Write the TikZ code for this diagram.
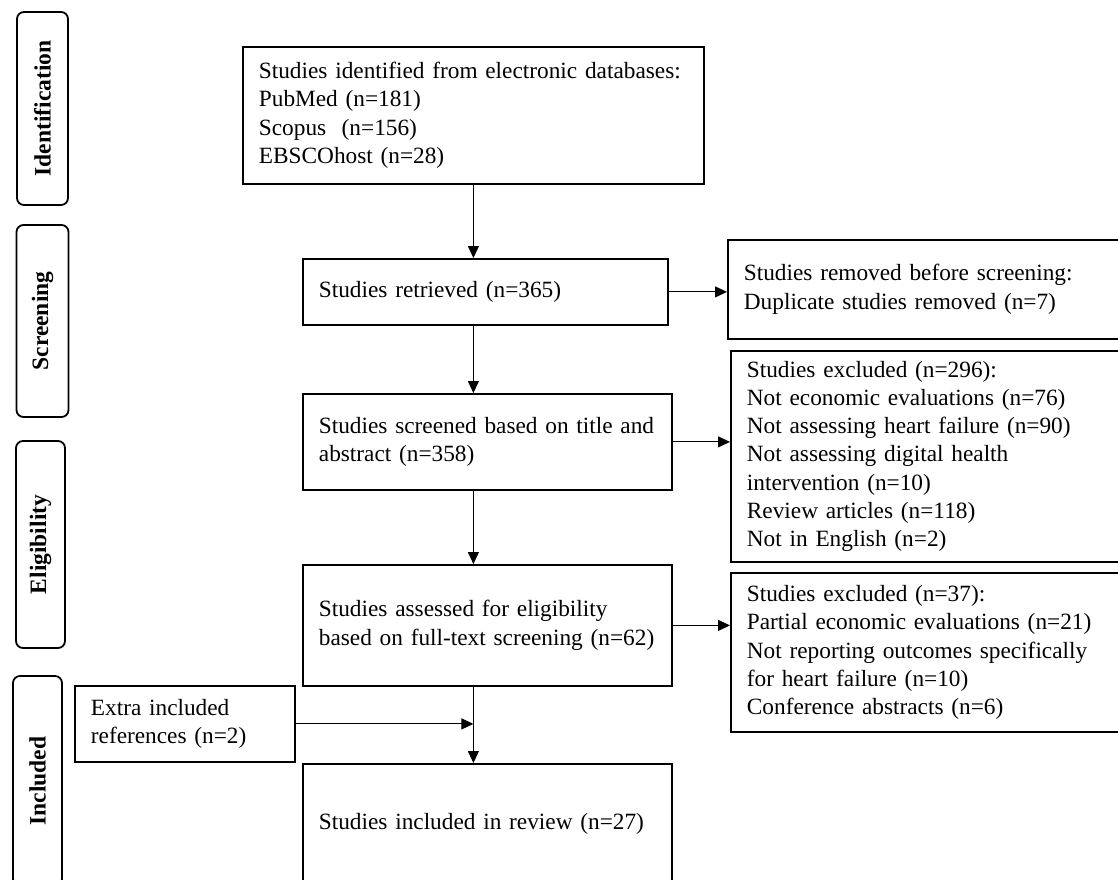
\documentclass[tikz,border=0pt]{standalone}
\usepackage{fontspec}
\setmainfont{Liberation Serif}
\usepackage{tikz}
\usetikzlibrary{arrows.meta,positioning,calc}
\tikzset{
  prbox/.style={draw=black, line width=1.8pt, fill=white, align=left, anchor=north west, inner xsep=16pt, inner ysep=0pt, font=\fontsize{23.3pt}{28.3pt}\selectfont},
  prphase/.style={draw=black, rounded corners=7pt, line width=1.8pt, fill=white, rotate=90, inner sep=0pt, font=\fontsize{23.5pt}{28pt}\selectfont\bfseries},
  prline/.style={-{Triangle[length=12pt,width=11pt]}, line width=1pt}
}

\begin{document}
\begin{tikzpicture}[x=1pt, y=-1pt]
  \path[use as bounding box, fill=white] (0,0) rectangle (1118,879);
  \node[prphase, minimum width=193pt, minimum height=51pt] (idph) at (42.5,108.5) {Identification};
  \node[prphase, minimum width=192pt, minimum height=52pt] (scph) at (42.5,321) {Screening};
  \node[prphase, minimum width=207pt, minimum height=49pt] (elph) at (40.5,544.5) {Eligibility};
  \node[prphase, minimum width=210pt, minimum height=49pt] (inph) at (37.5,781) {Included};
  \node[prbox, text width=429pt, minimum height=137pt] (ident) at (242,46) {Studies identified from electronic databases:\\PubMed (n=181)\\Scopus~ (n=156)\\EBSCOhost (n=28)};
  \node[prbox, text width=333pt, minimum height=66pt] (retr) at (302,258) {Studies retrieved (n=365)};
  \node[prbox, text width=337pt, minimum height=96pt] (screen) at (302,393) {Studies screened based on title and\\abstract (n=358)};
  \node[prbox, text width=337pt, minimum height=121pt] (assess) at (302,564) {Studies assessed for eligibility\\based on full-text screening (n=62)};
  \node[prbox, text width=337pt, minimum height=120pt] (incl) at (302,763) {Studies included in review (n=27)};
  \node[prbox, text width=366pt, minimum height=99pt] (dupl) at (727,239) {Studies removed before screening:\\Duplicate studies removed (n=7)};
  \node[prbox, text width=363pt, minimum height=211pt] (exclA) at (730,350) {Studies excluded (n=296):\\Not economic evaluations (n=76)\\Not assessing heart failure (n=90)\\Not assessing digital health\\intervention (n=10)\\Review articles (n=118)\\Not in English (n=2)};
  \node[prbox, text width=363pt, minimum height=159pt] (exclB) at (730,572) {Studies excluded (n=37):\\Partial economic evaluations (n=21)\\Not reporting outcomes specifically\\for heart failure (n=10)\\Conference abstracts (n=6)};
  \node[prbox, text width=188pt, minimum height=76pt] (extra) at (74,685) {Extra included\\references (n=2)};
  \draw[prline] (ident.south) -- (ident.south |- retr.north);
  \draw[prline] (ident.south |- retr.south) -- (ident.south |- screen.north);
  \draw[prline] (ident.south |- screen.south) -- (ident.south |- assess.north);
  \draw[prline] (ident.south |- assess.south) -- (ident.south |- incl.north);
  \draw[prline] (extra.east) -- (extra.east -| ident.south);
  \draw[prline] (retr.east) -- (retr.east -| dupl.west);
  \draw[prline] (screen.east) -- (screen.east -| exclA.west);
  \draw[prline] (assess.east) -- (assess.east -| exclB.west);
\end{tikzpicture}
\end{document}
